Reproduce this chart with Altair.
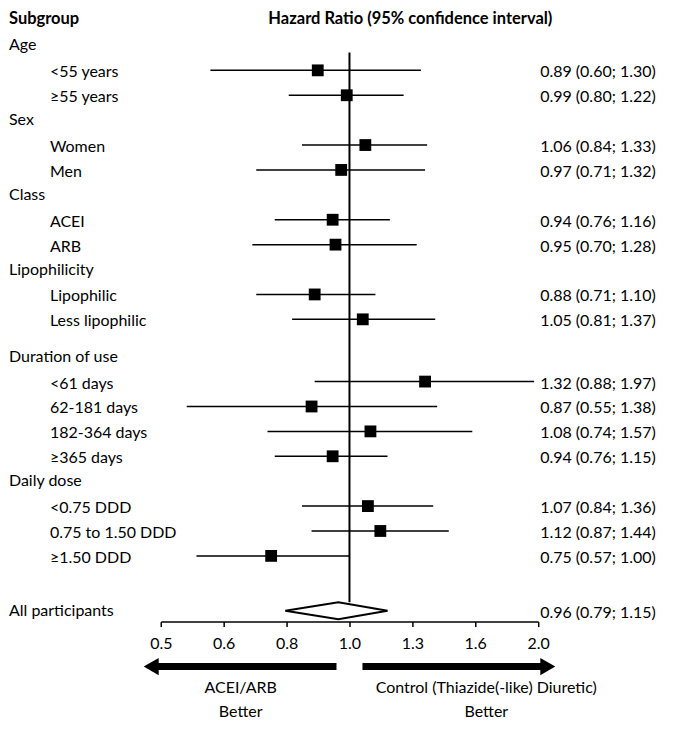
import altair as alt
import pandas as pd

# ---------------- data ----------------
groups = ["Age", "Sex", "Class", "Lipophilicity", "Duration of use", "Daily dose"]
subgroups = [
    ["<55 years", "≥55 years"],
    ["Women", "Men"],
    ["ACEI", "ARB"],
    ["Lipophilic", "Less lipophilic"],
    ["<61 days", "62-181 days", "182-364 days", "≥365 days"],
    ["<0.75 DDD", "0.75 to 1.50 DDD", "≥1.50 DDD"],
]
hr = [0.89, 0.99, 1.06, 0.97, 0.94, 0.95, 0.88, 1.05, 1.32, 0.87, 1.08, 0.94, 1.07, 1.12, 0.75]
lo = [0.60, 0.80, 0.84, 0.71, 0.76, 0.70, 0.71, 0.81, 0.88, 0.55, 0.74, 0.76, 0.84, 0.87, 0.57]
hi = [1.30, 1.22, 1.33, 1.32, 1.16, 1.28, 1.10, 1.37, 1.97, 1.38, 1.57, 1.15, 1.36, 1.44, 1.00]
overall_label = "All participants"
overall_hr, overall_lo, overall_hi = 0.96, 0.79, 1.15
tick_values = [0.5, 0.63, 0.794, 1.0, 1.26, 1.587, 2.0]
gap_after = [0, 0, 0, 0.5, 0, 1.2]
ref_value = 1.0

FONT = "Lato"
FS = 16

# ---------------- build tables ----------------
head_rows, sub_rows = [], []
pos = 0.0
k = 0
for g, subs, gap in zip(groups, subgroups, gap_after):
    head_rows.append({"label": g, "pos": pos})
    pos += 1
    for s in subs:
        sub_rows.append({"label": s, "pos": pos, "hr": hr[k], "lo": lo[k], "hi": hi[k],
                         "txt": f"{hr[k]:.2f} ({lo[k]:.2f}; {hi[k]:.2f})"})
        k += 1
        pos += 1
    pos += gap
all_pos = pos
dia_h = 0.34
heads = pd.DataFrame(head_rows)
subs_df = pd.DataFrame(sub_rows)
overall = pd.DataFrame([{"label": overall_label, "pos": all_pos, "ref": ref_value,
                         "top": all_pos - dia_h,
                         "txt": f"{overall_hr:.2f} ({overall_lo:.2f}; {overall_hi:.2f})"}])
diamond = pd.DataFrame({
    "x": [overall_lo, overall_hr, overall_hi],
    "y": [all_pos, all_pos - dia_h, all_pos],
    "y2": [all_pos, all_pos + dia_h, all_pos],
})
right_df = pd.concat([subs_df[["pos", "txt"]], overall[["pos", "txt"]]], ignore_index=True)

xscale = alt.Scale(type="log", domain=[0.5, 2.0], nice=False)
yscale = alt.Scale(domain=[-0.6, 23.14], reverse=True, nice=False, zero=False)
xaxis = alt.Axis(values=tick_values, labelExpr="format(datum.value, '.1f')",
                 grid=False, domainColor="black", domainWidth=1.5,
                 tickColor="black", tickWidth=1.5, tickSize=5,
                 labelFont=FONT, labelFontSize=FS, labelColor="black",
                 labelPadding=9, labelFlush=False, title=None)


def XF(field):
    return alt.X(field, scale=xscale, axis=xaxis)


def YF(field):
    return alt.Y(field, scale=yscale, axis=None)


Y = YF("pos:Q")

ci = alt.Chart(subs_df).mark_rule(color="black", strokeWidth=1.5).encode(
    x=XF("lo:Q"), x2="hi:Q", y=Y)

ref = alt.Chart(overall).mark_rule(color="black", strokeWidth=2).encode(
    x=XF("ref:Q"), y=YF("top:Q"), y2=alt.value(22))

sq = alt.Chart(subs_df).mark_square(color="black", size=140, opacity=1).encode(
    x=XF("hr:Q"), y=Y)

dia = alt.Chart(diamond).mark_area(orient="vertical", fill="white", stroke="black",
                                   strokeWidth=2, fillOpacity=1, interpolate="linear").encode(
    x=XF("x:Q"), y=YF("y:Q"), y2="y2:Q")


def txt(df, field, x, dy=0):
    return alt.Chart(df).mark_text(align="left", baseline="middle", font=FONT,
                                   fontSize=FS, color="black", dy=dy).encode(
        x=alt.value(x), y=Y, text=f"{field}:N")


head_txt = txt(heads, "label", -152)
sub_txt = txt(subs_df, "label", -111, dy=2)
all_txt = txt(overall, "label", -152)
right_txt = txt(right_df, "txt", 380, dy=2)

labels = pd.DataFrame({"t": ["Subgroup", "Hazard Ratio (95% confidence interval)",
                             "ACEI/ARB", "Better", "Control (Thiazide(-like) Diuretic)", "Better"]})


def free_text(i, x, y, align="center", weight="normal", size=FS):
    return alt.Chart(labels.iloc[[i]].reset_index(drop=True)).mark_text(
        align=align, baseline="middle", font=FONT, fontSize=size, fontWeight=weight,
        color="black").encode(x=alt.value(x), y=alt.value(y), text="t:N")


t1 = free_text(0, -152, -12, align="left", weight="bold", size=16.5)
t2 = free_text(1, 250, -12, weight="bold", size=16.5)
l1 = free_text(2, 80, 658)
l2 = free_text(3, 80, 683)
r1 = free_text(4, 326, 658)
r2 = free_text(5, 326, 683)

one = labels.iloc[[0]]
l_bar = alt.Chart(one).mark_rule(color="black", strokeWidth=7).encode(
    x=alt.value(-9.6), x2=alt.value(176), y=alt.value(637))
l_head = alt.Chart(one).mark_point(shape="triangle-left", filled=True,
                                   color="black", size=300, opacity=1).encode(
    x=alt.value(-9.6), y=alt.value(637))
r_bar = alt.Chart(one).mark_rule(color="black", strokeWidth=7).encode(
    x=alt.value(202), x2=alt.value(387.6), y=alt.value(637))
r_head = alt.Chart(one).mark_point(shape="triangle-right", filled=True,
                                   color="black", size=300, opacity=1).encode(
    x=alt.value(387.6), y=alt.value(637))
border = alt.Chart(one).mark_rule(color="#d9d9d9", strokeWidth=1).encode(
    x=alt.value(512), y=alt.value(-30), y2=alt.value(700))

chart = alt.layer(
    ci, border, ref, sq, dia, head_txt, sub_txt, all_txt, right_txt, t1, t2,
    l_bar, l_head, r_bar, r_head, l1, l2, r1, r2
).properties(
    width=378, height=592,
    autosize=alt.AutoSizeParams(type="none"),
    padding={"left": 153, "top": 22, "right": 130, "bottom": 100},
).configure_view(stroke=None)

chart.save("out.html", embed_options={"renderer": "svg", "actions": False})
